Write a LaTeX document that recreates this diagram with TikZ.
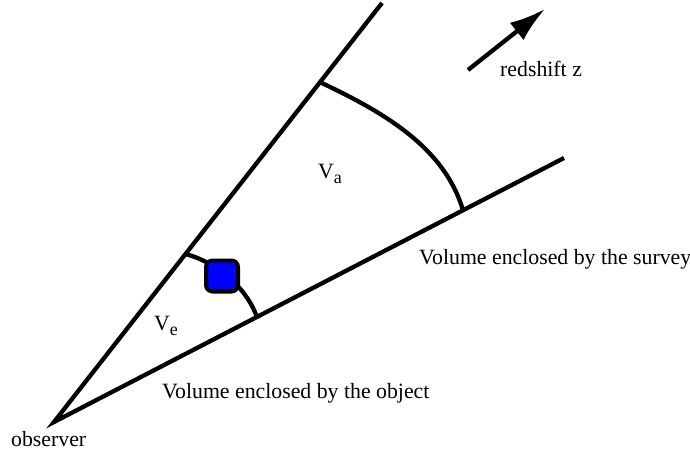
\documentclass[tikz,border=0pt]{standalone}
\usepackage{fontspec}
\setmainfont{Liberation Serif}
\usetikzlibrary{arrows.meta,calc}
\tikzset{
  thickline/.style={line width=4.3pt, line join=miter},
  lbl/.style={anchor=base west, inner sep=0pt, font=\fontsize{21.8}{26}\selectfont},
  objbox/.style={draw, fill=blue, line width=4pt, rounded corners=6.5pt, minimum width=32pt, minimum height=31pt, inner sep=0pt},
  zarrow/.style={line width=4.3pt, -{Latex[length=36pt,width=22pt]}}
}
\newcommand{\vsub}[1]{V\raisebox{-5pt}{\fontsize{18}{18}\selectfont #1}}
\begin{document}
\begin{tikzpicture}[x=1pt,y=-1pt]
\useasboundingbox (0,0) rectangle (690,454);
\coordinate (O) at (54,422);
\coordinate (U) at (382,3);
\coordinate (L) at (564,158);
\coordinate (A1) at ($(O)!0.811!(U)$);
\coordinate (A2) at ($(O)!0.802!(L)$);
\coordinate (B1) at ($(O)!0.401!(U)$);
\coordinate (B2) at ($(O)!0.398!(L)$);
\draw[thickline] (U) -- (O) -- (L);
\draw[thickline] (A1) .. controls (390,115) and (445,150) .. (A2);
\draw[thickline] (B1) .. controls (215,262) and (245,285) .. (B2);
\node[objbox] (obj) at (222,276) {};
\coordinate (zt) at (468,70);
\coordinate (zh) at (545,9);
\draw[zarrow] (zt) -- (zh);
\node[lbl] (zlab) at (500,77) {redshift z};
\node[lbl] (va) at (318,179) {\vsub{a}};
\node[lbl] (ve) at (154,330) {\vsub{e}};
\node[lbl] (surv) at (419,265) {Volume enclosed by the survey};
\node[lbl] (objl) at (162,398) {Volume enclosed by the object};
\node[lbl] (obs) at (11,446) {observer};
\end{tikzpicture}
\end{document}
